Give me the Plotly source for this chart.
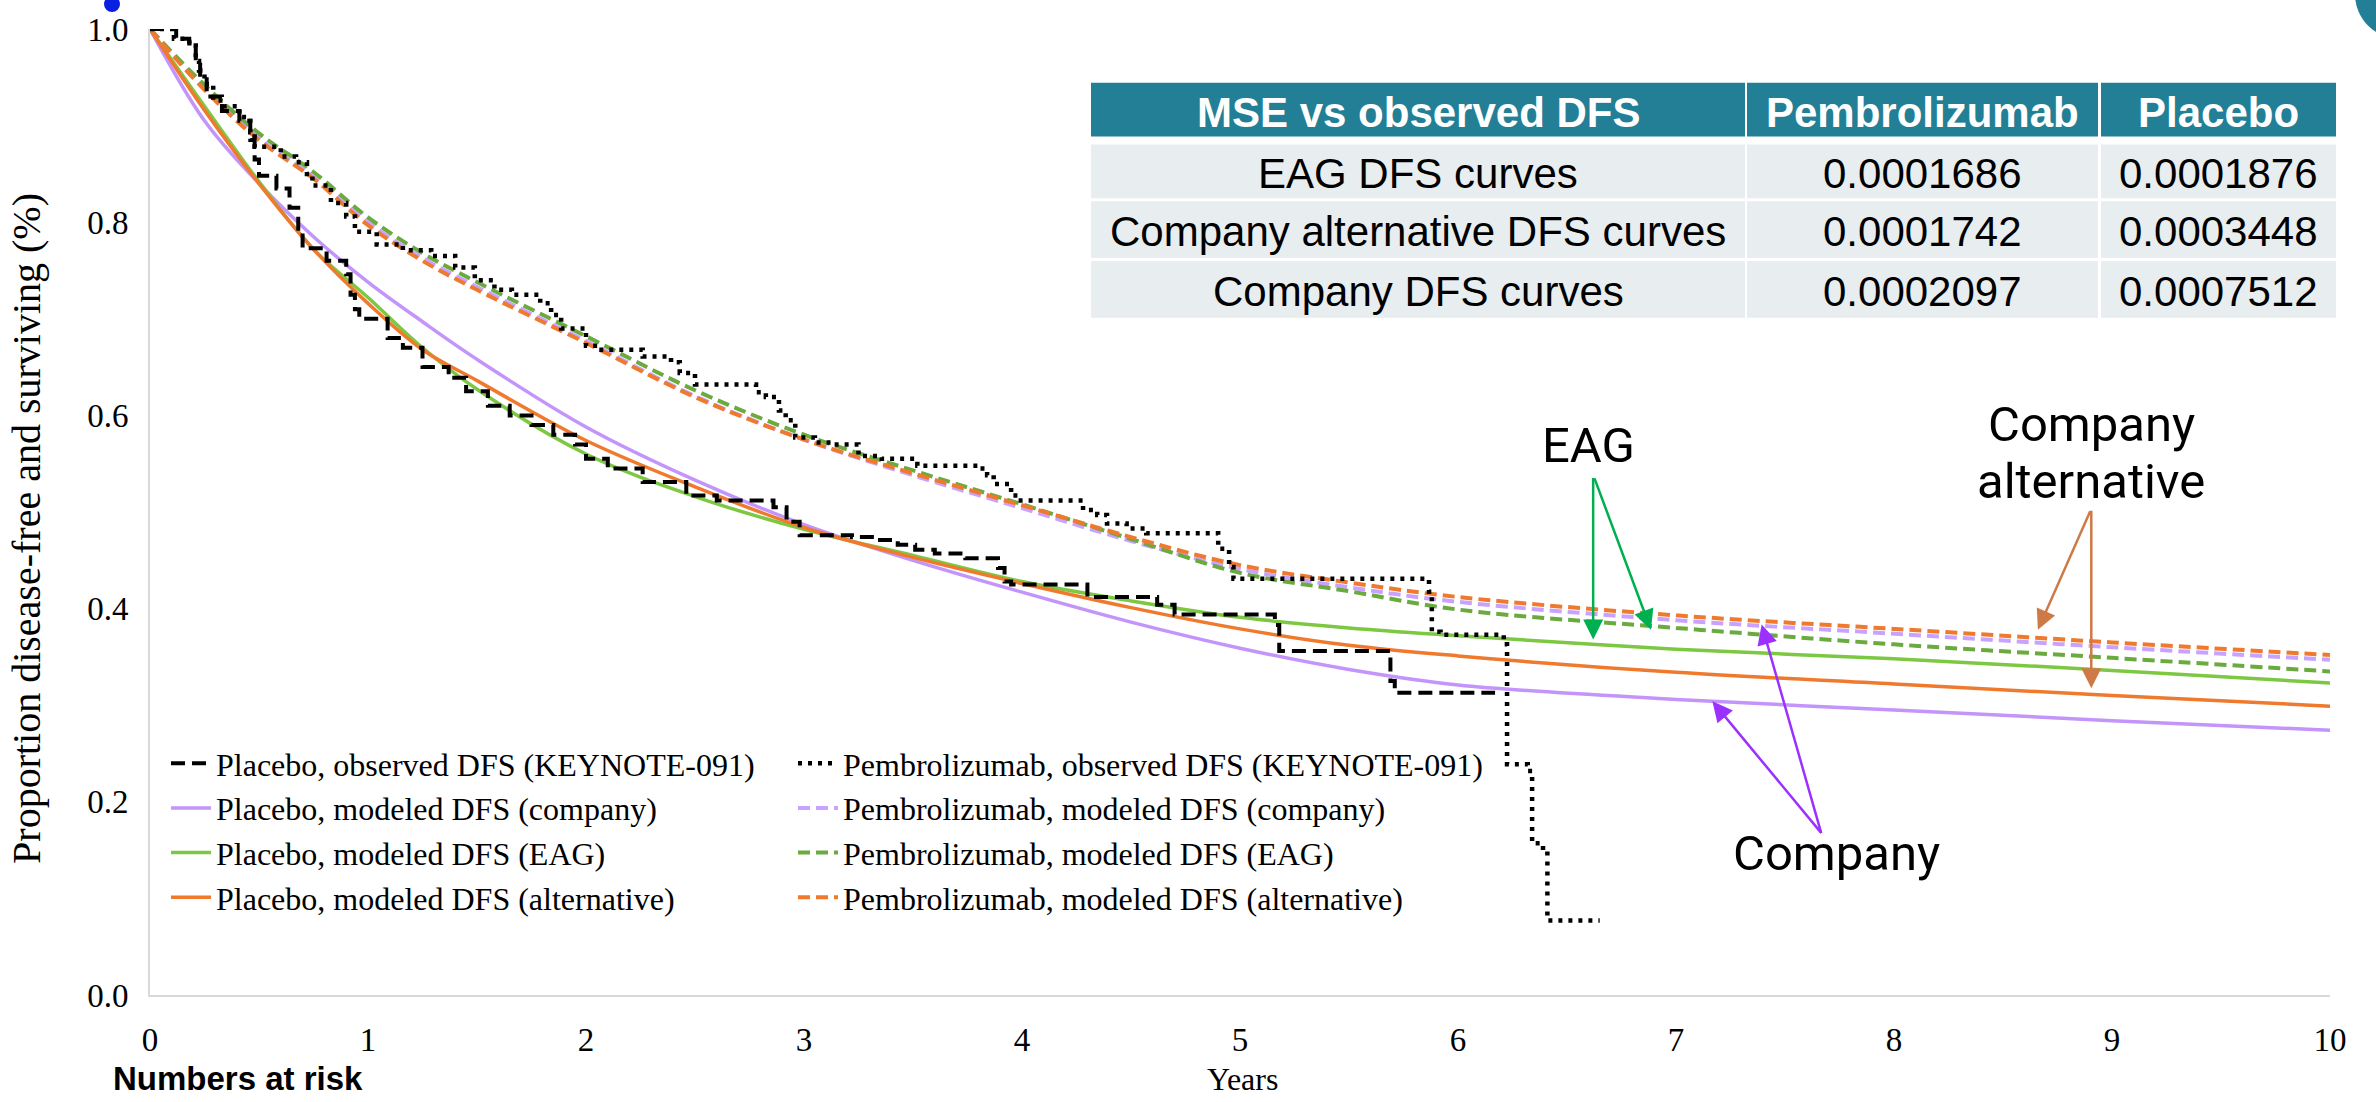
import plotly.graph_objects as go

# ---------------- data ----------------
t_model = [0, 0.25, 0.5, 0.75, 1, 1.25, 1.5, 2, 2.5, 3, 3.5, 4, 4.5, 5, 5.5, 6, 7, 8, 9, 10]

placebo_company = [1.0, 0.905, 0.840, 0.785, 0.738, 0.697, 0.658, 0.588, 0.533, 0.487, 0.450, 0.417, 0.386, 0.359, 0.337, 0.321, 0.306, 0.295, 0.284, 0.274]
placebo_eag     = [1.0, 0.920, 0.842, 0.772, 0.722, 0.670, 0.627, 0.560, 0.516, 0.482, 0.455, 0.428, 0.408, 0.391, 0.380, 0.372, 0.358, 0.348, 0.336, 0.323]
placebo_alt     = [1.0, 0.916, 0.840, 0.772, 0.716, 0.668, 0.636, 0.574, 0.526, 0.484, 0.453, 0.426, 0.401, 0.379, 0.362, 0.351, 0.334, 0.322, 0.310, 0.299]

pembro_company  = [1.0, 0.938, 0.887, 0.847, 0.800, 0.763, 0.733, 0.677, 0.620, 0.575, 0.538, 0.504, 0.470, 0.441, 0.422, 0.407, 0.388, 0.374, 0.360, 0.347]
pembro_eag      = [1.0, 0.942, 0.892, 0.852, 0.805, 0.768, 0.738, 0.682, 0.626, 0.580, 0.543, 0.508, 0.472, 0.437, 0.418, 0.399, 0.380, 0.363, 0.349, 0.335]
pembro_alt      = [1.0, 0.937, 0.885, 0.845, 0.797, 0.760, 0.730, 0.675, 0.619, 0.575, 0.540, 0.507, 0.474, 0.445, 0.427, 0.412, 0.393, 0.379, 0.365, 0.352]

placebo_obs_t = [0, 0.12, 0.18, 0.21, 0.23, 0.26, 0.33, 0.41, 0.46, 0.48, 0.50, 0.58, 0.64, 0.68, 0.70, 0.81, 0.90, 0.92, 0.94, 0.96,
                 1.09, 1.16, 1.25, 1.37, 1.45, 1.55, 1.65, 1.75, 1.85, 1.95, 2.0, 2.1, 2.26, 2.46, 2.6, 2.86, 2.92, 2.98,
                 3.22, 3.33, 3.43, 3.51, 3.60, 3.74, 3.89, 3.92, 3.95, 4.30, 4.62, 4.70, 5.16, 5.18, 5.69, 5.71, 6.17]
placebo_obs_s = [1.0, 0.990, 0.985, 0.965, 0.950, 0.930, 0.915, 0.905, 0.885, 0.865, 0.848, 0.835, 0.815, 0.790, 0.773, 0.760, 0.746, 0.725, 0.710, 0.700,
                 0.680, 0.670, 0.650, 0.639, 0.625, 0.610, 0.600, 0.590, 0.580, 0.570, 0.555, 0.545, 0.531, 0.517, 0.512, 0.505, 0.490, 0.476,
                 0.474, 0.471, 0.466, 0.461, 0.457, 0.452, 0.442, 0.428, 0.425, 0.412, 0.404, 0.394, 0.383, 0.356, 0.325, 0.313, 0.313]

pembro_obs_t = [0, 0.11, 0.18, 0.21, 0.225, 0.25, 0.29, 0.34, 0.41, 0.46, 0.48, 0.60, 0.67, 0.72, 0.745, 0.83, 0.90, 0.94, 1.04, 1.16, 1.29,
                1.40, 1.49, 1.58, 1.66, 1.79, 1.84, 1.886, 2.0, 2.06, 2.26, 2.39, 2.43, 2.50, 2.78, 2.825, 2.885, 2.916, 2.96, 3.05, 3.14,
                3.25, 3.357, 3.52, 3.80, 3.84, 3.87, 3.95, 3.98, 4.28, 4.345, 4.39, 4.48, 4.57, 4.90, 4.95, 4.97, 5.867, 5.88, 5.92,
                6.21, 6.225, 6.32, 6.34, 6.39, 6.41, 6.65]
pembro_obs_s = [1.0, 0.990, 0.983, 0.967, 0.957, 0.943, 0.926, 0.920, 0.909, 0.893, 0.878, 0.868, 0.862, 0.850, 0.838, 0.820, 0.806, 0.790, 0.777, 0.771, 0.765,
                0.753, 0.740, 0.730, 0.725, 0.716, 0.704, 0.690, 0.672, 0.668, 0.661, 0.655, 0.644, 0.632, 0.624, 0.619, 0.605, 0.595, 0.577, 0.572, 0.570,
                0.558, 0.555, 0.548, 0.545, 0.538, 0.529, 0.517, 0.512, 0.502, 0.497, 0.488, 0.483, 0.478, 0.462, 0.443, 0.431, 0.4175, 0.376, 0.373,
                0.363, 0.239, 0.232, 0.157, 0.149, 0.077, 0.077]

x_ticks = [0, 1, 2, 3, 4, 5, 6, 7, 8, 9, 10]
y_ticks = [0.0, 0.2, 0.4, 0.6, 0.8, 1.0]
y_ticktext = ["0.0", "0.2", "0.4", "0.6", "0.8", "1.0"]

table_header = ["MSE vs observed DFS", "Pembrolizumab", "Placebo"]
table_rows = ["EAG DFS curves", "Company alternative DFS curves", "Company DFS curves"]
table_pembro = ["0.0001686", "0.0001742", "0.0002097"]
table_placebo = ["0.0001876", "0.0003448", "0.0007512"]

# ---------------- styles ----------------
PURPLE = "#C394FA"
PURPLE_D = "#C9A2FF"
GREEN = "#7DC842"
GREEN_D = "#6AAA3E"
ORANGE = "#EF7A2E"
SERIF = "Liberation Serif"
SANS = "Liberation Sans"

W, H = 2376, 1102
ML, MR, MT, MB = 150, 46, 25, 107
PW = W - ML - MR
PH = H - MT - MB


def PX(px):
    return (px - ML) / PW


def PY(py):
    return (H - MB - py) / PH


fig = go.Figure()


def add(x, y, name, color, dash, width, legend, shape="linear"):
    fig.add_trace(go.Scatter(x=x, y=y, name=name, mode="lines",
                             line=dict(color=color, dash=dash, width=width, shape=shape),
                             legend=legend, hoverinfo="skip"))


# modeled curves (draw first so observed lines sit on top)
add(t_model, placebo_company, "Placebo, modeled DFS (company)", PURPLE, "solid", 3.5, "legend", "spline")
add(t_model, placebo_eag, "Placebo, modeled DFS (EAG)", GREEN, "solid", 3.5, "legend", "spline")
add(t_model, placebo_alt, "Placebo, modeled DFS (alternative)", ORANGE, "solid", 3.5, "legend", "spline")
add(t_model, pembro_company, "Pembrolizumab, modeled DFS (company)", PURPLE_D, "12px,6px", 4, "legend2", "spline")
add(t_model, pembro_eag, "Pembrolizumab, modeled DFS (EAG)", GREEN_D, "12px,6px", 4, "legend2", "spline")
add(t_model, pembro_alt, "Pembrolizumab, modeled DFS (alternative)", ORANGE, "12px,6px", 4, "legend2", "spline")
add(placebo_obs_t, placebo_obs_s, "Placebo, observed DFS (KEYNOTE-091)", "black", "14px,7px", 4, "legend", "hv")
add(pembro_obs_t, pembro_obs_s, "Pembrolizumab, observed DFS (KEYNOTE-091)", "black", "4px,6px", 4.5, "legend2", "hv")

# legend ordering
order1 = ["Placebo, observed DFS (KEYNOTE-091)", "Placebo, modeled DFS (company)",
          "Placebo, modeled DFS (EAG)", "Placebo, modeled DFS (alternative)"]
order2 = ["Pembrolizumab, observed DFS (KEYNOTE-091)", "Pembrolizumab, modeled DFS (company)",
          "Pembrolizumab, modeled DFS (EAG)", "Pembrolizumab, modeled DFS (alternative)"]
for tr in fig.data:
    if tr.name in order1:
        tr.legendrank = order1.index(tr.name) + 1
    else:
        tr.legendrank = order2.index(tr.name) + 1

shapes = []
annotations = []

# ---------------- table ----------------
col_edges = [(1091, 1745), (1747, 2098), (2101, 2336)]
header_y = (79, 133)
row_ys = [(141, 195), (198, 255), (258, 315)]
for (x0, x1), txt in zip(col_edges, table_header):
    shapes.append(dict(type="rect", xref="paper", yref="paper", x0=PX(x0), x1=PX(x1),
                       y0=PY(header_y[1]), y1=PY(header_y[0]), fillcolor="#237F96", line=dict(width=0), layer="above"))
    annotations.append(dict(xref="paper", yref="paper", x=PX((x0 + x1) / 2), y=PY(sum(header_y) / 2 + 3),
                            text="<b>%s</b>" % txt, showarrow=False, xanchor="center", yanchor="middle",
                            font=dict(family=SANS, size=42, color="white")))
for i, (y0, y1) in enumerate(row_ys):
    cells = [table_rows[i], table_pembro[i], table_placebo[i]]
    for (x0, x1), txt in zip(col_edges, cells):
        shapes.append(dict(type="rect", xref="paper", yref="paper", x0=PX(x0), x1=PX(x1),
                           y0=PY(y1), y1=PY(y0), fillcolor="#E8EDEF", line=dict(width=0), layer="above"))
        annotations.append(dict(xref="paper", yref="paper", x=PX((x0 + x1) / 2), y=PY((y0 + y1) / 2 + 2),
                                text=txt, showarrow=False, xanchor="center", yanchor="middle",
                                font=dict(family=SANS, size=42, color="black")))

# ---------------- callouts ----------------
CALL_FONT = dict(family="Roboto", size=49, color="black")
annotations.append(dict(xref="paper", yref="paper", x=PX(1588), y=PY(443), text="EAG", showarrow=False,
                        xanchor="center", yanchor="middle", font=CALL_FONT))
annotations.append(dict(xref="paper", yref="paper", x=PX(2091), y=PY(422), text="Company", showarrow=False,
                        xanchor="center", yanchor="middle", font=CALL_FONT))
annotations.append(dict(xref="paper", yref="paper", x=PX(2091), y=PY(479), text="alternative", showarrow=False,
                        xanchor="center", yanchor="middle", font=CALL_FONT))
annotations.append(dict(xref="paper", yref="paper", x=PX(1837), y=PY(853), text="Company", showarrow=False,
                        xanchor="center", yanchor="middle", font=CALL_FONT))

arrows = [
    # (head t, head S, tail dx px, tail dy px, color)
    (6.62, 0.368, 0, -163, "#00B050"),
    (6.885, 0.378, -57, -153, "#00B050"),
    (8.66, 0.378, 53, -120, "#CF7A46"),
    (8.905, 0.3175, 0, -179, "#CF7A46"),
    (7.167, 0.304, 110, 133, "#9B30FF"),
    (7.393, 0.3835, 60, 210, "#9B30FF"),
]
for hx, hy, dx, dy, col in arrows:
    annotations.append(dict(xref="x", yref="y", x=hx, y=hy, ax=dx, ay=dy, axref="pixel", ayref="pixel",
                            text="", showarrow=True, arrowhead=2, arrowsize=1.6, arrowwidth=2.5,
                            arrowcolor=col, standoff=0))

# ---------------- axis titles / labels ----------------
annotations.append(dict(xref="paper", yref="paper", x=PX(27), y=PY(527), text="Proportion disease-free and surviving (%)",
                        textangle=-90, showarrow=False, xanchor="center", yanchor="middle",
                        font=dict(family=SERIF, size=40, color="black")))
annotations.append(dict(xref="paper", yref="paper", x=PX(1242), y=PY(1079), text="Years", showarrow=False,
                        xanchor="center", yanchor="middle", font=dict(family=SERIF, size=32, color="black")))
annotations.append(dict(xref="paper", yref="paper", x=PX(238), y=PY(1079), text="<b>Numbers at risk</b>",
                        showarrow=False, xanchor="center", yanchor="middle",
                        font=dict(family=SANS, size=33, color="black")))

# slide remnants (decorative)
shapes.append(dict(type="circle", xref="paper", yref="paper", x0=PX(2355), x1=PX(2445), y0=PY(35), y1=PY(-55),
                   fillcolor="#237F96", line=dict(width=0), layer="above"))
shapes.append(dict(type="circle", xref="paper", yref="paper", x0=PX(104), x1=PX(120), y0=PY(8), y1=PY(-8),
                   fillcolor="#0A1FE0", line=dict(width=0), layer="above"))

fig.update_layout(
    width=W, height=H,
    margin=dict(l=ML, r=MR, t=MT, b=MB),
    paper_bgcolor="white", plot_bgcolor="white",
    xaxis=dict(range=[0, 10], tickvals=x_ticks, ticks="", showline=True, linecolor="#D9D9D9", linewidth=2,
               showgrid=False, zeroline=False, ticklabelstandoff=14,
               tickfont=dict(family=SERIF, size=33, color="black")),
    yaxis=dict(range=[0, 1], tickvals=y_ticks, ticktext=y_ticktext, ticks="", showline=True, linecolor="#D9D9D9",
               linewidth=2, showgrid=False, zeroline=False, ticklabelstandoff=13,
               tickfont=dict(family=SERIF, size=33, color="black")),
    legend=dict(x=PX(166), y=PY(735), xanchor="left", yanchor="top", bgcolor="rgba(0,0,0,0)",
                font=dict(family=SERIF, size=32, color="black"), tracegroupgap=0, itemwidth=40),
    legend2=dict(x=PX(793), y=PY(735), xanchor="left", yanchor="top", bgcolor="rgba(0,0,0,0)",
                 font=dict(family=SERIF, size=32, color="black"), tracegroupgap=0, itemwidth=40),
    shapes=shapes,
    annotations=annotations,
    showlegend=True,
)

fig.write_html("out.html")
